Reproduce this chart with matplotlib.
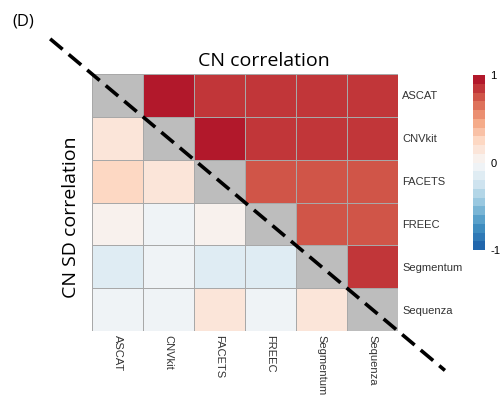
import numpy as np
import matplotlib
matplotlib.use('Agg')
import matplotlib.pyplot as plt
from matplotlib.colors import LinearSegmentedColormap, BoundaryNorm

tools = ["ASCAT", "CNVkit", "FACETS", "FREEC", "Segmentum", "Sequenza"]

# upper triangle: CN correlation, row by row (j > i)
cn_corr = [
    [0.97, 0.86, 0.86, 0.86, 0.86],
    [0.97, 0.86, 0.86, 0.86],
    [0.77, 0.77, 0.77],
    [0.77, 0.77],
    [0.86],
]
# lower triangle: CN SD correlation, row by row (j < i)
cn_sd_corr = [
    [0.12],
    [0.28, 0.12],
    [0.05, -0.03, 0.05],
    [-0.15, -0.05, -0.15, -0.10],
    [-0.05, -0.05, 0.12, -0.05, 0.12],
]

n = len(tools)
mat = np.full((n, n), np.nan)
for i, row in enumerate(cn_corr):
    for k, v in enumerate(row):
        mat[i, i + 1 + k] = v
for i, row in enumerate(cn_sd_corr):
    for j, v in enumerate(row):
        mat[i + 1, j] = v

base = LinearSegmentedColormap.from_list(
    "rdbu", ["#2166AC", "#4393C3", "#92C5DE", "#D1E5F0", "#F7F7F7",
             "#FDDBC7", "#F4A582", "#D6604D", "#B2182B"])
bounds = np.linspace(-1, 1, 21)
cmap = base.resampled(20)
cmap.set_bad("#bdbdbd")
norm = BoundaryNorm(bounds, cmap.N)

fig = plt.figure(figsize=(5.01, 3.97), dpi=100)
ax = fig.add_axes([0.1836, 0.1662, 0.6108, 0.6474])
ax.pcolormesh(np.ma.masked_invalid(mat), cmap=cmap, norm=norm,
              edgecolors="#a8a8a8", linewidth=0.7)
ax.set_xlim(0, n)
ax.set_ylim(n, 0)
ax.set_xticks(np.arange(n) + 0.5)
ax.set_yticks(np.arange(n) + 0.5)
ax.set_xticklabels(tools, rotation=270, fontsize=8, family="Liberation Sans",
                   color="#333333")
ax.set_yticklabels(tools, fontsize=8, family="Liberation Sans", color="#333333")
ax.yaxis.tick_right()
ax.tick_params(length=0, pad=3)
for s in ax.spines.values():
    s.set_visible(False)

# dashed diagonal running through the gray cells
ax.plot([-0.82, 6.92], [-0.82, 6.92], color="black", lw=2.6,
        dashes=(4.5, 2.2), clip_on=False, zorder=5)

ax.set_title("CN correlation", fontsize=14, family="Open Sans", pad=6, x=0.562)
fig.text(0.142, 0.453, "CN SD correlation", rotation=90, fontsize=14,
         family="Open Sans", ha="center", va="center")
fig.text(0.024, 0.947, "(D)", fontsize=12, family="Open Sans",
         ha="left", va="center")

cax = fig.add_axes([0.944, 0.370, 0.024, 0.441])
cb = fig.colorbar(plt.cm.ScalarMappable(norm=norm, cmap=cmap), cax=cax,
                  ticks=[-1, 0, 1])
cb.outline.set_visible(False)
cb.ax.minorticks_off()
cb.ax.tick_params(which="both", length=0, labelsize=8, pad=4)
cb.ax.set_yticklabels(["-1", "0", "1"], family="Liberation Sans")

fig.savefig("out.png", dpi=100)
